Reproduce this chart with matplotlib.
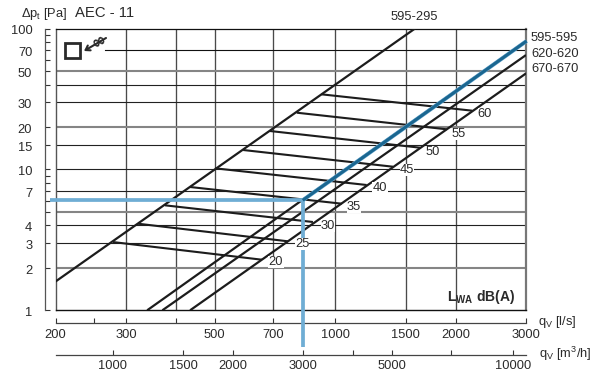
import matplotlib
matplotlib.use("Agg")
import matplotlib.pyplot as plt
from matplotlib.ticker import FixedLocator, FixedFormatter, NullLocator
from matplotlib.transforms import ScaledTranslation

plt.rcParams['font.family'] = ['Liberation Sans', 'DejaVu Sans']
plt.rcParams['mathtext.fontset'] = 'custom'
plt.rcParams['mathtext.rm'] = 'Liberation Sans'
plt.rcParams['mathtext.bf'] = 'Liberation Sans:bold'
plt.rcParams['mathtext.it'] = 'Liberation Sans:italic'

# --- data ---
duct_names = ['595-295', '595-595', '620-620', '670-670']
duct_q = [[200, 1584], [339, 3000], [370, 3000], [434, 3000]]
duct_p = [[1.6, 100], [1, 81.5], [1, 64.8], [1, 48]]

noise_levels = [20, 25, 30, 35, 40, 45, 50, 55, 60]
noise_q_start = [278.5, 321.5, 375.6, 434, 501, 589, 687, 802, 925]
noise_p_start = [3.05, 4.117, 5.56, 7.5, 10.18, 13.73, 18.73, 25.26, 34.1]
noise_q_end = [656, 762, 880, 1039, 1199, 1395, 1630, 1900, 2202]
noise_p_end = [2.286, 3.088, 4.233, 5.71, 7.75, 10.45, 14.26, 19.26, 26.1]

op_q = [193.8, 830, 830]
op_p = [6.04, 6.04, 0.549]
op_diag_q = [830, 3010]
op_diag_p = [6.04, 81.5]

ls_ticks = [200, 250, 300, 400, 500, 700, 1000, 1500, 2000, 3000]
ls_labels = ['200', '', '300', '', '500', '700', '1000', '1500', '2000', '3000']
ls_grid = [300, 400, 500, 700, 1000, 1500, 2000]
m3h_ticks = [1000, 1500, 2000, 3000, 4000, 5000, 7000, 10000]
m3h_labels = ['1000', '1500', '2000', '3000', '', '5000', '', '10000']
pa_ticks = [1, 2, 3, 4, 5, 6, 7, 8, 9, 10, 15, 20, 30, 40, 50, 60, 70, 80, 90, 100]
pa_labels = ['1', '2', '3', '4', '', '', '7', '', '', '10', '15', '20', '30', '', '50', '', '70', '', '', '100']
pa_grid_thin = [3, 4, 7, 10, 15, 30, 40]
pa_grid_thick = [2, 5, 20, 50]

W, H = 600, 378
L, R, T, B = 55.5, 526.0, 28.5, 310.3
FS = 9.3
TXT = '#2a2a2a'

fig = plt.figure(figsize=(W / 100, H / 100), dpi=100)
ax = fig.add_axes([L / W, 1 - B / H, (R - L) / W, (B - T) / H])
ax.set_xscale('log')
ax.set_yscale('log')
ax.set_xlim(200, 3000)
ax.set_ylim(1, 100)
ax.xaxis.set_major_locator(NullLocator())
ax.xaxis.set_minor_locator(NullLocator())
ax.yaxis.set_major_locator(NullLocator())
ax.yaxis.set_minor_locator(NullLocator())


def px(x, y):
    return x / W, 1 - y / H


def label(x, y, s, ha='left', va='center', size=FS, **kw):
    return fig.text(*px(x, y), s, ha=ha, va=va, fontsize=size, color=TXT, **kw)


# grid
for v in ls_grid:
    ax.axvline(v, color='#4a4a4a', lw=0.95, zorder=1)
for v in pa_grid_thin:
    ax.axhline(v, color='#222222', lw=0.8, zorder=1)
for v in pa_grid_thick:
    ax.axhline(v, color='#858585', lw=1.5, zorder=1)
ax.plot([266, 3000], [70, 70], color='#111111', lw=0.8, zorder=1)

# frame
for s, c, lw in [('top', '#111111', 0.9), ('bottom', '#111111', 1.0),
                 ('left', '#555555', 1.0), ('right', '#777777', 1.6)]:
    ax.spines[s].set_color(c)
    ax.spines[s].set_linewidth(lw)

# duct curves
for q, p in zip(duct_q, duct_p):
    ax.plot(q, p, color='#1c1c1c', lw=1.6, zorder=3, solid_capstyle='butt')

# noise lines
for a, b, c, d in zip(noise_q_start, noise_q_end, noise_p_start, noise_p_end):
    ax.plot([a, b], [c, d], color='#1c1c1c', lw=1.5, zorder=3, solid_capstyle='butt')

# operating point
ax.plot(op_q, op_p, color='#6fadd4', lw=2.7, zorder=4, clip_on=False,
        solid_capstyle='butt', solid_joinstyle='miter')
ax.plot(op_diag_q, op_diag_p, color='#6fadd4', lw=2.9, zorder=4, clip_on=False,
        solid_capstyle='butt')
ax.plot(op_diag_q, op_diag_p, color='#1a6690', lw=2.2, zorder=5, clip_on=False,
        solid_capstyle='butt')

# secondary axes


def style_secondary(sec, ticks, labels, pad):
    sec.xaxis.set_major_locator(FixedLocator(ticks))
    sec.xaxis.set_major_formatter(FixedFormatter(labels))
    sec.xaxis.set_minor_locator(NullLocator())
    sec.tick_params(axis='x', which='major', direction='in', length=3.4, width=0.8,
                    color='#333333', labelsize=FS, labelcolor=TXT, pad=pad)
    sec.spines['bottom'].set_color('#444444')
    sec.spines['bottom'].set_linewidth(0.9)


sec1 = ax.secondary_xaxis((323 - B) / (B - T) * -1)
style_secondary(sec1, ls_ticks, ls_labels, 4.6)
sec2 = ax.secondary_xaxis((355 - B) / (B - T) * -1,
                          functions=(lambda q: q * 3.6, lambda q: q / 3.6))
style_secondary(sec2, m3h_ticks, m3h_labels, 3.8)

sec3 = ax.secondary_yaxis((44.5 - L) / (R - L))
sec3.yaxis.set_major_locator(FixedLocator(pa_ticks))
sec3.yaxis.set_major_formatter(FixedFormatter(pa_labels))
sec3.yaxis.set_minor_locator(NullLocator())
sec3.tick_params(axis='y', which='major', direction='in', length=3.4, width=0.8,
                 color='#333333', labelsize=FS, labelcolor=TXT, pad=8.8)
sec3.spines['left'].set_color('#555555')
sec3.spines['left'].set_linewidth(0.9)
shift = ScaledTranslation(0, -1.5 / 100, fig.dpi_scale_trans)
for tick in sec3.yaxis.get_major_ticks():
    tick.label1.set_transform(tick.label1.get_transform() + shift)

# noise level labels
noise_pos = [(276, 262), (302, 244), (328, 225.7), (354, 207), (380, 188),
             (407, 170), (433, 152), (459, 134), (485, 114)]
for lv, (x, y) in zip(noise_levels, noise_pos):
    fig.text(*px(x, y), str(lv), ha='center', va='center', fontsize=FS, color=TXT,
             zorder=6, bbox=dict(facecolor='white', edgecolor='none', pad=0.2))

# duct labels
label(414.7, 17, duct_names[0], ha='center')
label(531, 38, duct_names[1])
label(531, 54, duct_names[2])
label(531, 69, duct_names[3])

# titles & axis names
label(21, 14, r'$\mathrm{\Delta p_t}$ [Pa]', size=FS)
label(75, 13, 'AEC - 11', size=10.7)
label(537.5, 322, r'q$_\mathrm{V}$ [l/s]')
label(539, 354, r'q$_\mathrm{V}$ [m$^3$/h]')
label(447, 297, r'$\mathbf{L_{WA}}$ $\mathbf{dB(A)}$', size=10)

# damper symbol
ax.plot([220.5], [70], marker='s', ms=10.8, mfc='white', mec='#2a2a2a', mew=2.0,
        zorder=6, clip_on=False)
ax.annotate('', xy=px(84, 51), xytext=px(106, 38), xycoords='figure fraction',
            textcoords='figure fraction',
            arrowprops=dict(arrowstyle='->,head_length=0.3,head_width=0.2',
                            lw=1.5, color='#2a2a2a', shrinkA=0, shrinkB=0), zorder=6)
fig.text(*px(98.5, 41.5), '\u221e', ha='center', va='center', fontsize=12, rotation=28,
         color='#2a2a2a', fontweight='bold', family=['DejaVu Sans'])

fig.savefig('out.png', dpi=100, facecolor='white')
